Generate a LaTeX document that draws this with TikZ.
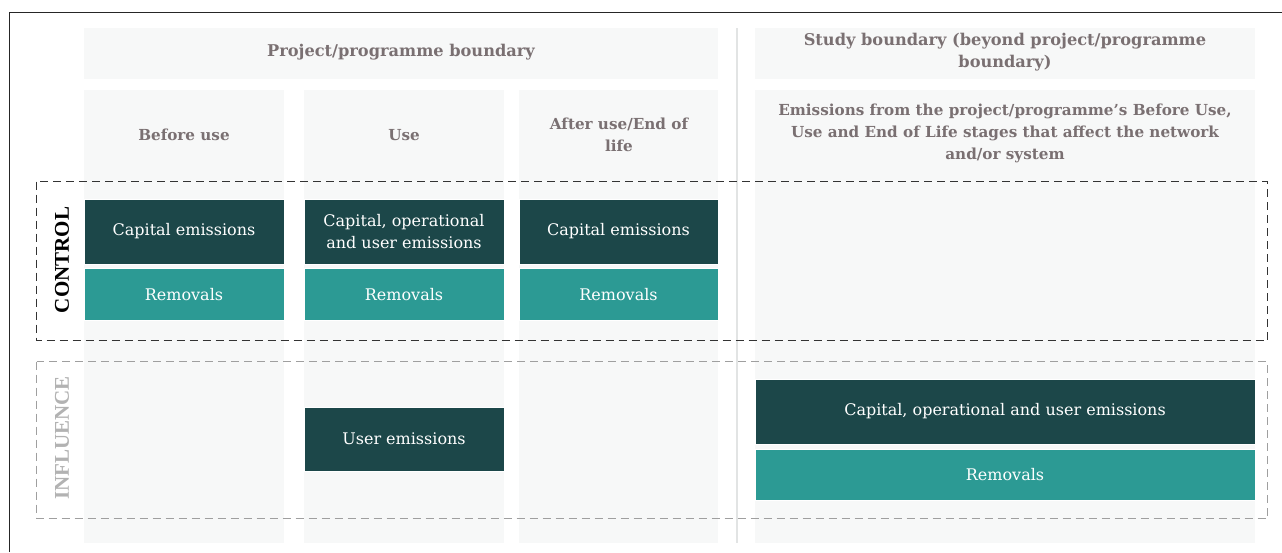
\documentclass[tikz,border=0pt]{standalone}
\usepackage{fontspec}
\setmainfont{DejaVu Serif}
\newfontfamily\sidefont{Liberation Serif}
\definecolor{bgcol}{HTML}{F7F8F8}
\definecolor{darkbox}{HTML}{1C4749}
\definecolor{tealbox}{HTML}{2C9A94}
\definecolor{headtxt}{HTML}{7A7072}
\definecolor{sepline}{HTML}{E2E4E4}
\tikzset{
  colbg/.style={fill=bgcol, draw=none, inner sep=0pt, anchor=north west},
  headtext/.style={text=headtxt, font=\fontsize{15.2}{22}\selectfont\bfseries, align=center},
  tophead/.style={text=headtxt, font=\fontsize{16.2}{22}\selectfont\bfseries, align=center},
  darkcell/.style={fill=darkbox, draw=white, line width=0.6pt, inner sep=0pt, text=white, font=\fontsize{16}{22}\selectfont, align=center},
  tealcell/.style={fill=tealbox, draw=white, line width=0.6pt, inner sep=0pt, text=white, font=\fontsize{16}{22}\selectfont, align=center},
  zone/.style={line width=1.2pt, dash pattern=on 8pt off 5pt},
  sidelabel/.style={rotate=90, font=\sidefont\fontsize{21}{24}\selectfont\bfseries}
}
\begin{document}
\begin{tikzpicture}[x=1pt,y=-1pt]
\useasboundingbox (0,0) rectangle (1282,552);
\fill[white] (0,0) rectangle (1282,552);
% frame
\draw[black!85, line width=1.3pt] (9.5,552) -- (9.5,12.5) -- (1282,12.5);
% backgrounds
\node[colbg, minimum width=634pt, minimum height=51pt] (hproj) at (84,28) {};
\node[colbg, minimum width=500pt, minimum height=51pt] (hstudy) at (755,28) {};
\node[colbg, minimum width=200pt, minimum height=453pt] (cbefore) at (84,90) {};
\node[colbg, minimum width=200pt, minimum height=453pt] (cuse) at (304,90) {};
\node[colbg, minimum width=199pt, minimum height=453pt] (cafter) at (519,90) {};
\node[colbg, minimum width=500pt, minimum height=453pt] (cstudy) at (755,90) {};
\draw[sepline, line width=1.5pt] (737,28) -- (737,543);
% header texts
\node[tophead] (tproj) at (401,52) {Project/programme boundary};
\node[tophead] (tstudy) at (1005,52) {Study boundary (beyond project/programme\\boundary)};
\node[headtext] (tbefore) at (184,135) {Before use};
\node[headtext] (tuse) at (404,135) {Use};
\node[headtext] (tafter) at (619,135) {After use/End of\\life};
\node[headtext] (tstudydesc) at (1005,133) {Emissions from the project/programme's Before Use,\\Use and End of Life stages that affect the network\\and/or system};
% zones
\draw[zone, black!80] (36.5,181.5) rectangle (1267.5,340.5);
\draw[zone, gray!75] (36.5,361.5) rectangle (1267.5,518.5);
\node[sidelabel, text=black] (lcontrol) at (62,260) {CONTROL};
\node[sidelabel, text=gray!60] (linfluence) at (62,438) {INFLUENCE};
% control cells
\node[darkcell, minimum width=200pt, minimum height=65pt] (ce1) at (184,231.5) {Capital emissions};
\node[tealcell, minimum width=200pt, minimum height=52pt] (rm1) at (184,294.5) {Removals};
\node[darkcell, minimum width=200pt, minimum height=65pt] (ce2) at (404,231.5) {Capital, operational\\and user emissions};
\node[tealcell, minimum width=200pt, minimum height=52pt] (rm2) at (404,294.5) {Removals};
\node[darkcell, minimum width=199pt, minimum height=65pt] (ce3) at (618.5,231.5) {Capital emissions};
\node[tealcell, minimum width=199pt, minimum height=52pt] (rm3) at (618.5,294.5) {Removals};
% influence cells
\node[darkcell, minimum width=200pt, minimum height=64pt] (ue) at (404,439) {User emissions};
\node[darkcell, minimum width=500pt, minimum height=65pt] (ce4) at (1005,411.5) {Capital, operational and user emissions};
\node[tealcell, minimum width=500pt, minimum height=51pt] (rm4) at (1005,475) {Removals};
\end{tikzpicture}
\end{document}
